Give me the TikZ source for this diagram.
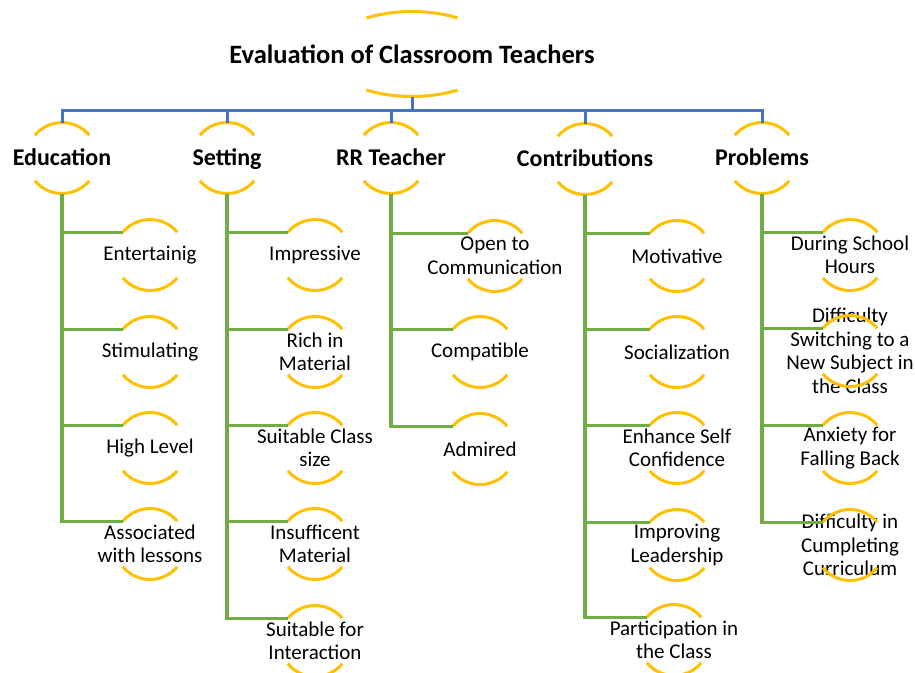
\documentclass[tikz,border=0pt]{standalone}
\usepackage{fontspec}
\setmainfont{Carlito}
\usepackage{tikz}

\definecolor{ringgold}{HTML}{FFC000}
\definecolor{barblue}{HTML}{4472C4}
\definecolor{stemgreen}{HTML}{70AD47}

\newcommand{\rr}{35.5pt}

\begin{document}
\begin{tikzpicture}[x=1pt, y=-1pt,
        head/.style={font=\fontsize{24}{28}\selectfont\bfseries, text height=16pt, text depth=1pt},
        item/.style={align=center, inner sep=0pt, font=\fontsize{21}{23.5}\selectfont},
        ring/.style={ringgold, line width=3pt},
        bar/.style={barblue, line width=3pt},
        stem/.style={stemgreen, line width=3.2pt}]
        \useasboundingbox (0, 0) rectangle (915, 672);

        % title
        \node[font=\fontsize{26.5}{30}\selectfont\bfseries] (root) at (412, 54) {Evaluation of Classroom Teachers};

        % headings
        \node[head] (edu) at (62, 158) {Education};
        \node[head] (set) at (227, 158) {Setting};
        \node[head] (rrt) at (391, 158) {RR Teacher};
        \node[head] (con) at (585, 159) {Contributions};
        \node[head] (pro) at (762, 158) {Problems};

        % education
        \node[item] (ent) at (150, 255) {Entertainig};
        \node[item] (sti) at (150, 352) {Stimulating};
        \node[item] (hig) at (150, 448) {High Level};
        \node[item] (ass) at (150, 544) {Associated\\with lessons};

        % setting
        \node[item] (imp) at (315, 255) {Impressive};
        \node[item] (ric) at (315, 352) {Rich in\\Material};
        \node[item] (sui) at (315, 448) {Suitable Class\\size};
        \node[item] (ins) at (315, 544) {Insufficent\\Material};
        \node[item] (int) at (315, 641) {Suitable for\\Interaction};

        % rr teacher
        \node[item] (ope) at (495, 256) {Open to\\Communication};
        \node[item] (cmp) at (480, 352) {Compatible};
        \node[item] (adm) at (480, 449) {Admired};

        % contributions
        \node[item] (mot) at (677, 256) {Motivative};
        \node[item] (soc) at (677, 352) {Socialization};
        \node[item] (enh) at (677, 448) {Enhance Self\\Confidence};
        \node[item] (imr) at (677, 545) {Improving\\Leadership};
        \node[item] (par) at (674, 640) {Participation in\\the Class};

        % problems
        \node[item] (dur) at (850, 255) {During School\\Hours};
        \node[item] (dif) at (850, 351) {Difficulty\\Switching to a\\New Subject in\\the Class};
        \node[item] (anx) at (850, 448) {Anxiety for\\Falling Back};
        \node[item] (cur) at (850, 545) {Difficulty in\\Cumpleting\\Curriculum};

        % rings
        \draw[ring] ([shift={(122:86pt and 42.5pt)}]root.center)
            arc[start angle=122, end angle=58, x radius=86pt, y radius=42.5pt];
        \draw[ring] ([shift={(238:86pt and 42.5pt)}]root.center)
            arc[start angle=238, end angle=302, x radius=86pt, y radius=42.5pt];
        \foreach \n in {edu, set, rrt, con, pro, ent, sti, hig, ass, imp, ric, sui, ins, int,
                ope, cmp, adm, mot, soc, enh, imr, par, dur, dif, anx, cur} {
            \draw[ring] ([shift={(140:\rr)}]\n.center) arc[start angle=140, end angle=40, radius=\rr];
            \draw[ring] ([shift={(220:\rr)}]\n.center) arc[start angle=220, end angle=320, radius=\rr];
        }

        % blue links
        \coordinate (bus) at (412, 110);
        \draw[bar] ([yshift=-42.5pt]root.center) -- (bus);
        \foreach \n in {edu, set, rrt, con, pro}
            \draw[bar] (bus) -| ([yshift=\rr]\n.center);

        % green links
        \foreach \p/\c in {edu/ent, edu/sti, edu/hig, edu/ass,
                set/imp, set/ric, set/sui, set/ins, set/int,
                rrt/ope, rrt/cmp, rrt/adm,
                con/mot, con/soc, con/enh, con/imr, con/par,
                pro/dur, pro/dif, pro/anx, pro/cur}
            \draw[stem] ([yshift=-\rr]\p.center) |- ([shift={(140:\rr)}]\c.center);
    \end{tikzpicture}
\end{document}
